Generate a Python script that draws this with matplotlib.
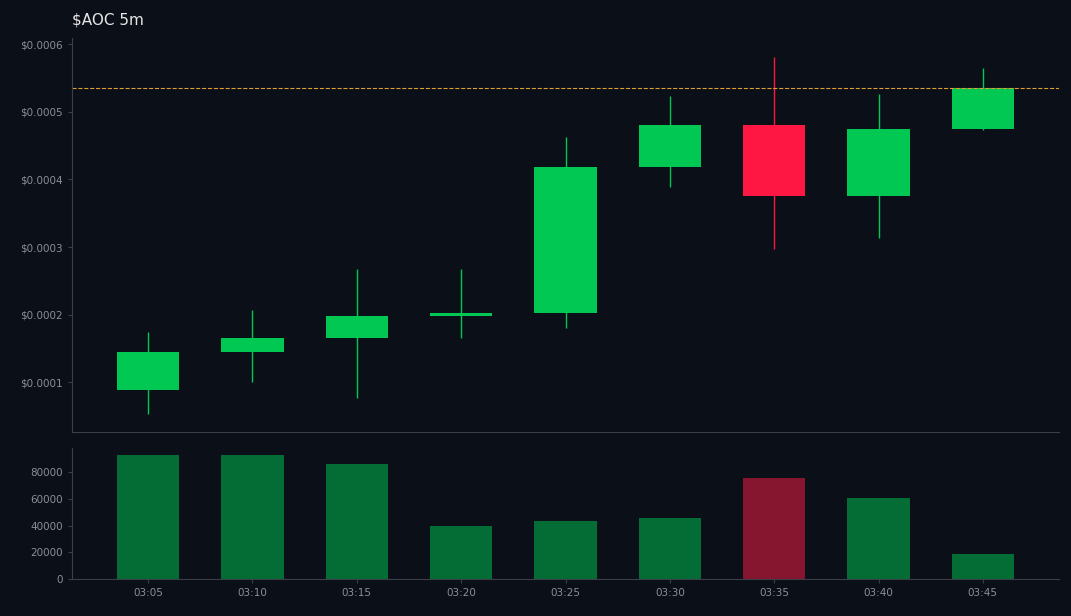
import matplotlib
matplotlib.use("Agg")
import matplotlib.pyplot as plt
from matplotlib.ticker import FuncFormatter
import numpy as np

times = ["03:05", "03:10", "03:15", "03:20", "03:25", "03:30", "03:35", "03:40", "03:45"]
opens = [0.0000881, 0.0001445, 0.0001652, 0.000198, 0.000202, 0.000419, 0.000481, 0.000376, 0.000474]
highs = [0.000174, 0.000207, 0.000268, 0.000268, 0.000462, 0.000523, 0.000581, 0.000526, 0.000565]
lows = [0.0000525, 0.0001, 0.0000763, 0.000165, 0.00018, 0.000388, 0.000297, 0.000314, 0.000473]
closes = [0.0001445, 0.0001652, 0.000198, 0.000202, 0.000419, 0.000481, 0.000376, 0.000474, 0.000535]
volumes = [92700, 92700, 86000, 39600, 43400, 45600, 75500, 60600, 18700]

bg = "#0b0f17"
up, down = "#00c853", "#ff1744"
vup, vdown = "#046c35", "#861530"
grey = "#8a8f98"

fig = plt.figure(figsize=(10.71, 6.16), dpi=100, facecolor=bg)
ax = fig.add_axes([72/1071, 1-432/616, 987/1071, 394/616], facecolor=bg)
axv = fig.add_axes([72/1071, 1-579/616, 987/1071, 131/616], facecolor=bg, sharex=ax)

x = np.arange(len(times))
w = 0.6
for i in x:
    o, h, l, c = opens[i], highs[i], lows[i], closes[i]
    col = up if c >= o else down
    ax.vlines(i, l, h, color=col, lw=1)
    ax.bar(i, max(abs(c - o), 0.000003), bottom=min(o, c), width=w, color=col)
    axv.bar(i, volumes[i], width=w, color=vup if c >= o else vdown)

ax.axhline(closes[-1], color="#e0a030", ls="--", lw=0.8)
ax.set_xlim(-0.73, 8.73)
ax.set_ylim(0.0000265, 0.000609)
ax.set_yticks([0.0001, 0.0002, 0.0003, 0.0004, 0.0005, 0.0006])
ax.yaxis.set_major_formatter(FuncFormatter(lambda v, p: "\\$%.4f" % v))
axv.set_ylim(0, 98000)
axv.set_yticks([0, 20000, 40000, 60000, 80000])
axv.set_xticks(x)
axv.set_xticklabels(times)
ax.tick_params(labelbottom=False, bottom=False)

for a in (ax, axv):
    for s in ("top", "right"):
        a.spines[s].set_visible(False)
    for s in ("left", "bottom"):
        a.spines[s].set_color("#3a3f48")
    a.tick_params(colors=grey, labelsize=7.5, length=3)
    a.tick_params(axis="x", colors="#3a3f48", labelcolor=grey)
    a.tick_params(axis="y", colors="#3a3f48", labelcolor=grey)

fig.text(72/1071, 1-20/616, "\\$AOC 5m", color="#e6e6e6", fontsize=11, va="center")
fig.savefig("out.png", facecolor=bg)
